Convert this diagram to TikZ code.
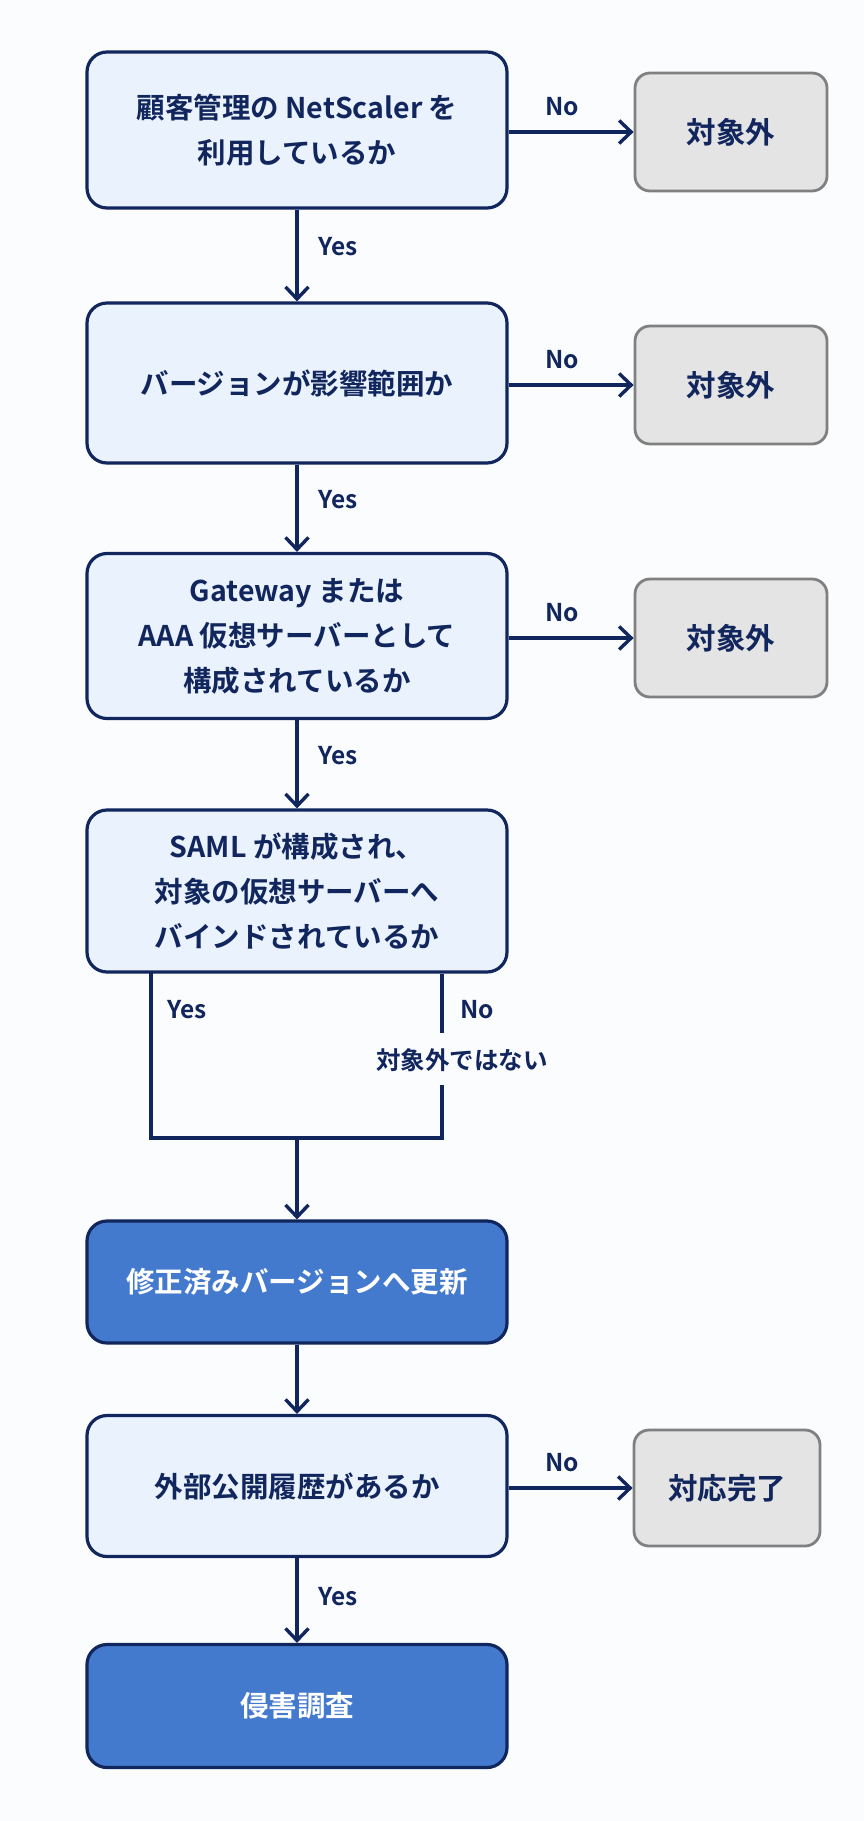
\documentclass[tikz,border=0pt]{standalone}
\usepackage{fontspec}
\setmainfont{Noto Sans CJK JP}[BoldFont=* Bold]
\usetikzlibrary{arrows.meta}
\definecolor{navy}{RGB}{18,38,94}
\definecolor{lightfill}{RGB}{234,243,253}
\definecolor{grayfill}{RGB}{228,228,228}
\definecolor{grayline}{RGB}{128,128,128}
\definecolor{bluefill}{RGB}{68,122,206}
\definecolor{bgc}{RGB}{251,252,254}
\tikzset{
  qbox/.style={draw=navy, line width=3.2pt, fill=lightfill, rounded corners=20pt, minimum width=420pt, align=center, text=navy, font=\fontsize{28.5}{45}\selectfont\bfseries, inner sep=0pt},
  abox/.style={draw=navy, line width=3.2pt, fill=bluefill, rounded corners=20pt, minimum width=420pt, align=center, text=white, font=\fontsize{28.5}{45}\selectfont\bfseries, inner sep=0pt},
  gbox/.style={draw=grayline, line width=2.8pt, fill=grayfill, rounded corners=15pt, minimum width=192pt, minimum height=118pt, align=center, text=navy, font=\fontsize{29.5}{34}\selectfont\bfseries, inner sep=0pt},
  lbl/.style={text=navy, font=\fontsize{24.5}{28}\selectfont\bfseries, inner sep=0pt},
  flow/.style={draw=navy, line width=3.4pt},
  arr/.style={flow, -{Straight Barb[length=12pt, width=23pt, line width=3.4pt]}},
}
\begin{document}
\begin{tikzpicture}[x=1pt,y=-1pt]
\fill[bgc] (0,0) rectangle (864,1821);
\useasboundingbox (0,0) rectangle (864,1821);

\node[qbox, minimum height=156pt] (b1) at (297,130) {顧客管理の NetScaler を\\利用しているか};
\node[gbox] (r1) at (731,132) {対象外};
\node[qbox, minimum height=160pt] (b2) at (297,383) {バージョンが影響範囲か};
\node[gbox] (r2) at (731,385) {対象外};
\node[qbox, minimum height=165pt] (b3) at (297,636) {Gateway または\\AAA 仮想サーバーとして\\構成されているか};
\node[gbox] (r3) at (731,638) {対象外};
\node[qbox, minimum height=162pt] (b4) at (297,891) {SAML が構成され、\\対象の仮想サーバーへ\\バインドされているか};
\node[abox, minimum height=122pt] (b5) at (297,1282) {修正済みバージョンへ更新};
\node[qbox, minimum height=141pt] (b6) at (297,1486) {外部公開履歴があるか};
\node[gbox, minimum width=186pt, minimum height=116pt] (r6) at (727,1488) {対応完了};
\node[abox, minimum height=123pt] (b7) at (297,1706) {侵害調査};

% main vertical flow
\draw[arr] (b1) -- node[lbl, right=20pt, pos=0.4] (y1) {Yes} (b2);
\draw[arr] (b2) -- node[lbl, right=20pt, pos=0.4] (y2) {Yes} (b3);
\draw[arr] (b3) -- node[lbl, right=20pt, pos=0.4] (y3) {Yes} (b4);
\draw[arr] (b6) -- node[lbl, right=20pt, pos=0.45] (y6) {Yes} (b7);

% No branches
\draw[arr] (b1.east |- r1) -- node[lbl, above=14pt, pos=0.43] (n1) {No} (r1);
\draw[arr] (b2.east |- r2) -- node[lbl, above=14pt, pos=0.43] (n2) {No} (r2);
\draw[arr] (b3.east |- r3) -- node[lbl, above=14pt, pos=0.43] (n3) {No} (r3);
\draw[arr] (b6.east |- r6) -- node[lbl, above=14pt, pos=0.43] (n6) {No} (r6);

% SAML branch
\coordinate (jl) at (151,1138);
\coordinate (jr) at (442,1138);
\coordinate (jm) at (297,1138);
\coordinate (gtop) at (442,1033);
\coordinate (gbot) at (442,1087);
\draw[flow, line cap=rect] (b4.south -| jl) -- (jl) -- (jr) -- (gbot);
\draw[flow] (b4.south -| jr) -- (gtop);
\node[lbl] (ylab) at (187,1010) {Yes};
\node[lbl] (nlab) at (477,1010) {No};
\node[lbl] (notout) at (462,1060) {対象外ではない};
\draw[arr] (jm) -- (b5);
\draw[arr] (b5) -- (b6);
\end{tikzpicture}
\end{document}
